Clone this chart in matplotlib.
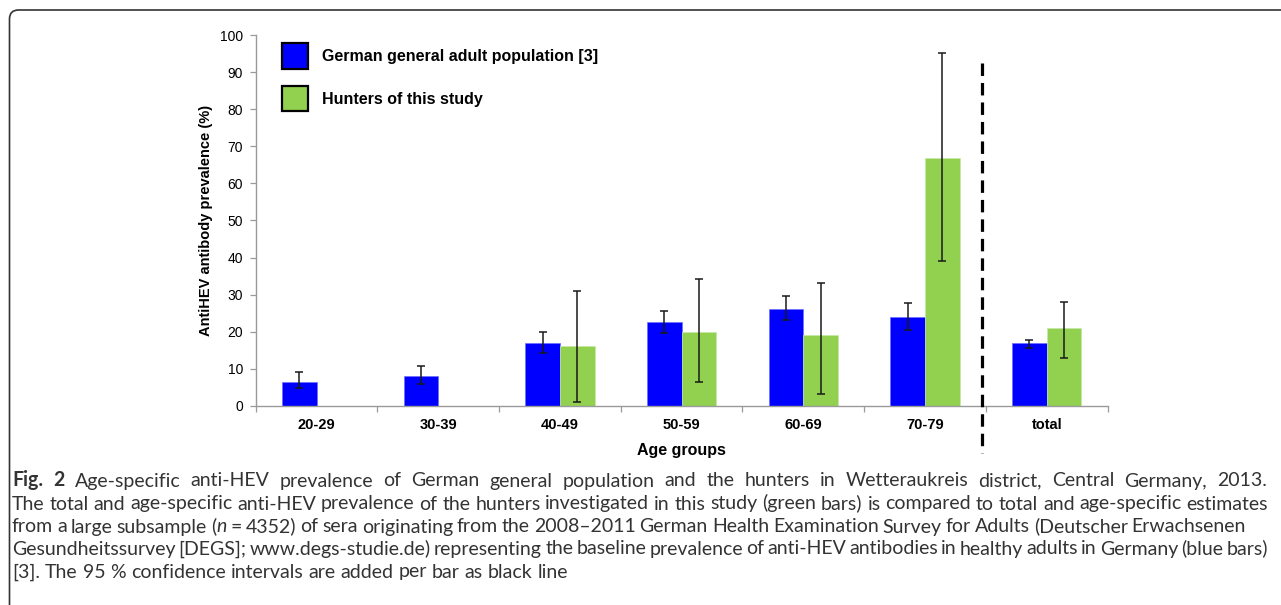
import matplotlib.pyplot as plt
import matplotlib.patches as mpatches
from matplotlib.transforms import IdentityTransform, ScaledTranslation
import numpy as np

# Data
age_groups = ["20-29", "30-39", "40-49", "50-59", "60-69", "70-79", "total"]
german_pop = [6.5, 7.9, 16.9, 22.5, 26.1, 23.9, 16.8]
german_low = [4.8, 5.8, 14.2, 19.7, 23.1, 20.4, 15.5]
german_high = [9.2, 10.8, 20.0, 25.7, 29.5, 27.6, 17.8]
hunters = [np.nan, np.nan, 16.0, 20.0, 19.0, 67.0, 21.0]
hunters_low = [np.nan, np.nan, 1.1, 6.4, 3.2, 39.1, 13.0]
hunters_high = [np.nan, np.nan, 31.0, 34.2, 33.1, 95.1, 28.0]
y_ticks = list(range(0, 101, 10))
series_labels = ["German general adult population [3]", "Hunters of this study"]

caption_runs = [
    [("Fig. 2", "bold"),
     (" Age-specific anti-HEV prevalence of German general population and the hunters in Wetteraukreis district, Central Germany, 2013.", "normal")],
    [("The total and age-specific anti-HEV prevalence of the hunters investigated in this study (green bars) is compared to total and age-specific estimates", "normal")],
    [("from a large subsample (", "normal"), ("n", "italic"),
     (" = 4352) of sera originating from the 2008\u20132011 German Health Examination Survey for Adults (Deutscher Erwachsenen", "normal")],
    [("Gesundheitssurvey [DEGS]; www.degs-studie.de) representing the baseline prevalence of anti-HEV antibodies in healthy adults in Germany (blue bars)", "normal")],
    [("[3]. The 95 % confidence intervals are added per bar as black line", "normal")],
]

BLUE = "#0000FF"
GREEN = "#92D050"
AXIS_GRAY = "#9a9a9a"
W, H = 1281, 605

fig = plt.figure(figsize=(W / 100, H / 100), dpi=100)
fig.patch.set_facecolor("white")

# axes placed in pixel terms of the reference
x0, x1, y0, y1 = 255.7, 1107.6, 405.7, 35.3
ax = fig.add_axes([x0 / W, (H - y0) / H, (x1 - x0) / W, (y0 - y1) / H])

x = np.arange(len(age_groups))
bw = 0.285
g = np.array(german_pop)
h = np.array(hunters)
ax.bar(x - bw / 2, g, bw, color=BLUE, edgecolor="#6f6fff", linewidth=0.5, zorder=2)
ax.bar(x + bw / 2, h, bw, color=GREEN, edgecolor="#c6e8a6", linewidth=0.5, zorder=2)

err_kw = dict(fmt="none", ecolor="#1a1a1a", elinewidth=1.1, capsize=3, capthick=1.1, zorder=3)
ax.errorbar(x - bw / 2, g, yerr=[g - np.array(german_low), np.array(german_high) - g], **err_kw)
ax.errorbar(x + bw / 2, h, yerr=[h - np.array(hunters_low), np.array(hunters_high) - h], **err_kw)

# dashed separator between age groups and total
ax.plot([5.465, 5.465], [92.5, -12.8], color="black", linewidth=2.3,
        dashes=(3.9, 2.2), clip_on=False, zorder=4)

ax.set_xlim(-0.5, len(age_groups) - 0.5)
ax.set_ylim(0, 100)
ax.set_yticks(y_ticks)
ax.set_xticks(x)
ax.set_xticklabels(age_groups, fontsize=10.5, fontweight="bold", family="Liberation Sans")
# the "total" label sits a little right of its bars in the reference
tl = ax.get_xticklabels()[-1]
tl.set_transform(tl.get_transform() + ScaledTranslation(0.1, 0, fig.dpi_scale_trans))
ax.set_xticks(np.arange(-0.5, len(age_groups)), minor=True)
ax.tick_params(axis="x", which="major", length=0, pad=8.5)
ax.tick_params(axis="x", which="minor", length=4, color=AXIS_GRAY, width=0.9)
ax.tick_params(axis="y", length=4, color=AXIS_GRAY, width=0.9, pad=5, labelsize=10)
for lab in ax.get_yticklabels():
    lab.set_family("Liberation Sans")

for side in ["top", "right"]:
    ax.spines[side].set_visible(False)
for side in ["left", "bottom"]:
    ax.spines[side].set_color(AXIS_GRAY)
    ax.spines[side].set_linewidth(1.0)

ax.set_xlabel("Age groups", fontsize=11.5, fontweight="bold", family="Liberation Sans", labelpad=8)
ax.set_ylabel("AntiHEV antibody prevalence (%)", fontsize=10.5, fontweight="bold",
              family="Liberation Sans", labelpad=5)

handles = [mpatches.Patch(facecolor=BLUE, edgecolor="black", linewidth=1.6),
           mpatches.Patch(facecolor=GREEN, edgecolor="black", linewidth=1.6)]
ax.legend(handles, series_labels, loc="upper left", bbox_to_anchor=(0.022, 1.0),
          frameon=False, borderpad=0, handlelength=1.6, handleheight=2.1,
          labelspacing=1.05, handletextpad=0.88,
          prop={"family": "Liberation Sans", "weight": "bold", "size": 11.5})

# rounded border box (cropped on right and bottom like the reference)
border = mpatches.FancyBboxPatch((9.5, -40), 1330, 635,
                                 boxstyle="round,pad=0,rounding_size=9",
                                 transform=IdentityTransform(), facecolor="none",
                                 edgecolor="#333333", linewidth=1.2, clip_on=False)
fig.add_artist(border)

# caption, laid out word by word so lines can be justified
renderer = fig.canvas.get_renderer()
cap_font = ["Lato", "DejaVu Sans"]
cap_color = "#333333"
left = 12
line_y = [481, 504, 527, 549, 572]
right_edges = [1267, 1268, 1246, 1268, None]


def split_words(runs):
    words = [[]]
    for text, style in runs:
        parts = text.split(" ")
        for k, part in enumerate(parts):
            if k > 0:
                words.append([])
            if part:
                words[-1].append((part, style))
    return [w for w in words if w]


def make_run(text, style, size):
    weight = "bold" if style == "bold" else "normal"
    fstyle = "italic" if style == "italic" else "normal"
    return fig.text(0, 0, text, transform=IdentityTransform(), fontsize=size,
                    family=cap_font, fontweight=weight, fontstyle=fstyle,
                    color=cap_color, va="baseline", ha="left")


def measure(text, style, size):
    t = make_run(text, style, size)
    wdt = t.get_window_extent(renderer).width
    t.remove()
    return wdt


# fit font size so line 2 fits at natural spacing
base = 12.0
line2_w = measure(caption_runs[1][0][0], "normal", base)
cap_size = base * (right_edges[1] - left) / line2_w
space_w = measure("a a", "normal", cap_size) - measure("aa", "normal", cap_size)

for runs, yy, r_edge in zip(caption_runs, line_y, right_edges):
    words = split_words(runs)
    widths = [sum(measure(t, s, cap_size) for t, s in wd) for wd in words]
    gap = space_w
    if r_edge is not None and len(words) > 1:
        gap = (r_edge - left - sum(widths)) / (len(words) - 1)
    xx = left
    for wd, wdt in zip(words, widths):
        cx = xx
        for t, s in wd:
            txt = make_run(t, s, cap_size)
            txt.set_position((cx, H - yy - 5.5))
            cx += measure(t, s, cap_size)
        xx += wdt + gap

fig.savefig("out.png", dpi=100)
